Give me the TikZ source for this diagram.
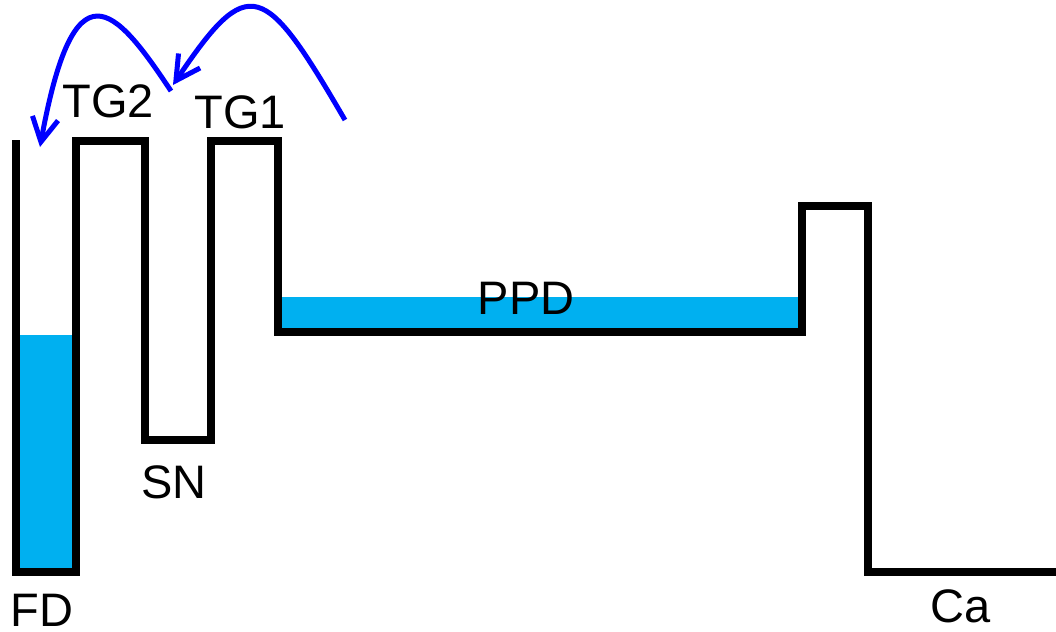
\documentclass[tikz,border=0pt]{standalone}
\usepackage{fontspec}
\setmainfont{Liberation Sans}
\usepackage{tikz}
\usetikzlibrary{arrows.meta}
\definecolor{Water}{HTML}{00B0F0}
\definecolor{Pump}{HTML}{0000FF}

\begin{document}
\begin{tikzpicture}[x=0.5pt,y=-0.5pt,
wall/.style={draw=black,line width=3.8pt,line join=miter},
lbl/.style={inner sep=0pt,font=\fontsize{23.5}{28}\selectfont},
hop/.style={draw=Pump,line width=2.5pt,-{Straight Barb[length=12pt,width=13pt,line width=2.5pt]}}]
\useasboundingbox (0,0) rectangle (1056,632);
% charge already stored
\fill[Water] (16,335) rectangle (76,572);
\fill[Water] (278,297) rectangle (802,332);
\draw[wall] (16,140)--(16,572)--(76,572)--(76,141)--(145,141)--(145,440)--(211,440)--(211,141)--(278,141)--(278,332)--(802,332)--(802,206)--(868,206)--(868,572)--(1056,572);
\node[lbl] (fd) at (42,610) {FD};
\node[lbl] (tg2) at (108,101) {TG2};
\node[lbl] (sn) at (174,482) {SN};
\node[lbl] (tg1) at (240,112) {TG1};
\node[lbl] (ppd) at (526,298) {PPD};
\node[lbl] (ca) at (961,606) {Ca};
\coordinate (p1) at (345,120);
\coordinate (p2) at (173,85);
\coordinate (p3) at (171,91);
\coordinate (p4) at (40,147);
\draw[hop] (p1) .. controls (264,-19) and (249,-28) .. (p2);
\draw[hop] (p3) .. controls (114,5) and (74,-39) .. (p4);
\end{tikzpicture}
\end{document}
